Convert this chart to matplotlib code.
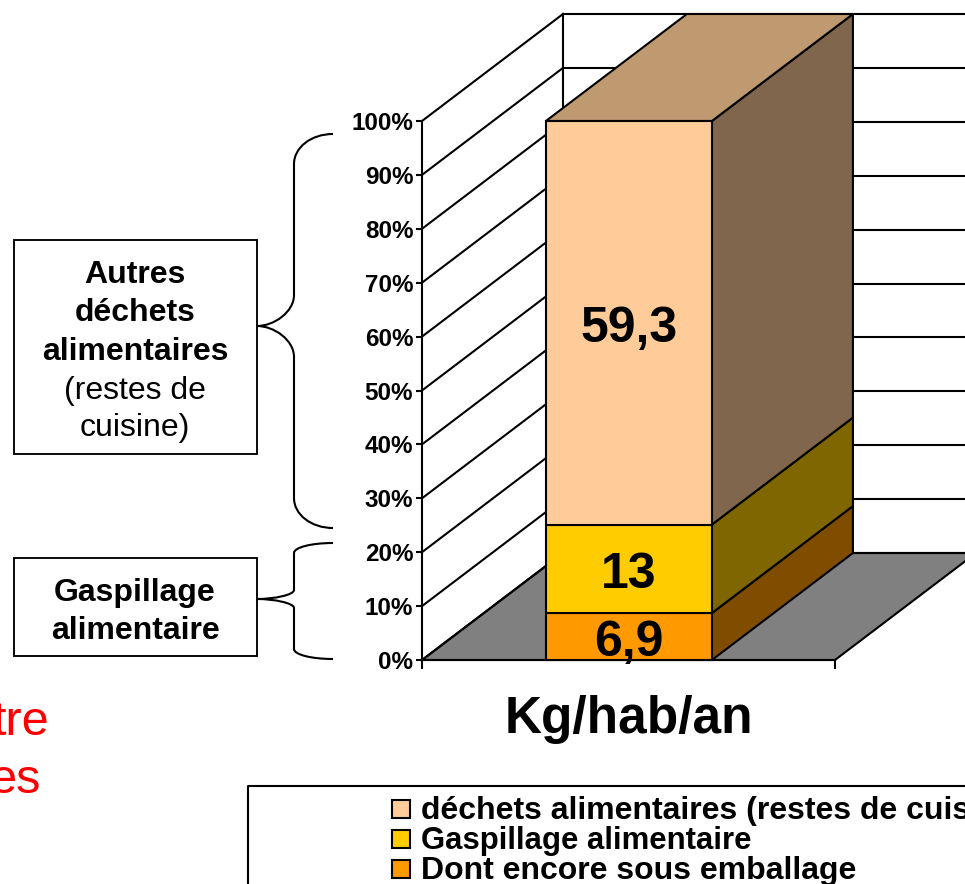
import matplotlib
matplotlib.use('Agg')
import matplotlib.pyplot as plt
from matplotlib.patches import Polygon, Rectangle, PathPatch
from matplotlib.path import Path

plt.rcParams['font.family'] = ['Liberation Sans', 'DejaVu Sans']

categories = ['Dont encore sous emballage', 'Gaspillage alimentaire', 'déchets alimentaires (restes de cuisine)']
kg_values = [6.9, 13, 59.3]
value_labels = ['6,9', '13', '59,3']
front_colors = ['#FF9900', '#FFCC00', '#FFCC99']
side_colors = ['#804D00', '#806600', '#80664D']
top_color = '#BF9970'
tick_values = [0, 10, 20, 30, 40, 50, 60, 70, 80, 90, 100]
tick_labels = ['0%', '10%', '20%', '30%', '40%', '50%', '60%', '70%', '80%', '90%', '100%']

W, H = 965, 884
LW = 1.5

# depth of the fake 3d box, in axis units
depth_x = 141 / 413
depth_y = 107 / 539 * 100
bar_left = 0.30
bar_right = 0.702

fig = plt.figure(figsize=(W / 100, H / 100), dpi=100)
ax = fig.add_axes([422 / W, (H - 660) / H, 413 / W, 539 / H])
ax.set_xlim(0, 1)
ax.set_ylim(0, 100)
ax.patch.set_alpha(0)
ax.spines['top'].set_visible(False)
ax.spines['right'].set_visible(False)
ax.spines['left'].set_linewidth(LW)
ax.spines['bottom'].set_linewidth(LW)
ax.set_xticks([0, 1])
ax.set_xticklabels([])
ax.tick_params(axis='x', length=6.5, width=LW)
ax.set_yticks(tick_values)
ax.set_yticklabels(tick_labels, fontsize=17.5, fontweight='bold', va='center_baseline')
ax.tick_params(axis='y', length=4.3, width=LW, pad=2)

# floor
ax.add_patch(Polygon([(0, 0), (1, 0), (1 + depth_x, depth_y), (depth_x, depth_y)],
	closed=True, fc='#808080', ec='black', lw=LW, clip_on=False, zorder=1))

# walls
for t in tick_values:
	ax.plot([0, depth_x], [t, t + depth_y], color='black', lw=LW, clip_on=False, zorder=1.5)
	ax.plot([depth_x, 1 + depth_x], [t + depth_y, t + depth_y], color='black', lw=LW, clip_on=False, zorder=1.5)
ax.plot([depth_x, depth_x], [depth_y, 100 + depth_y], color='black', lw=LW, clip_on=False, zorder=1.5)

# stacked bar
total = sum(kg_values)
bottom = 0
for i, v in enumerate(kg_values):
	share = v / total * 100
	ax.add_patch(Polygon([
		(bar_right, bottom), (bar_right + depth_x, bottom + depth_y),
		(bar_right + depth_x, bottom + share + depth_y), (bar_right, bottom + share)],
		closed=True, fc=side_colors[i], ec='black', lw=LW, clip_on=False, zorder=2))
	ax.bar((bar_left + bar_right) / 2, share, bar_right - bar_left, bottom=bottom,
		color=front_colors[i], edgecolor='black', linewidth=LW, clip_on=False, zorder=3)
	ax.annotate(value_labels[i], ((bar_left + bar_right) / 2, bottom + share / 2),
		xytext=(0, -1), textcoords='offset points', ha='center', va='center_baseline',
		fontsize=36, fontweight='bold', zorder=5, annotation_clip=False)
	bottom += share
ax.add_patch(Polygon([
	(bar_left, 100), (bar_right, 100),
	(bar_right + depth_x, 100 + depth_y), (bar_left + depth_x, 100 + depth_y)],
	closed=True, fc=top_color, ec='black', lw=LW, clip_on=False, zorder=2.5))

# everything around the chart, in pixels
over = fig.add_axes([0, 0, 1, 1])
over.set_xlim(0, W)
over.set_ylim(H, 0)
over.axis('off')
over.patch.set_alpha(0)

over.text(629, 719, 'Kg/hab/an', ha='center', va='center', fontsize=37, fontweight='bold')


def brace(tip_y, top, bot, r_end, r_tip):
	tip_x, sx, ex = 257, 294, 333
	verts = [
		(ex, top), (sx + 17, top), (sx, top + r_end * 0.45), (sx, top + r_end),
		(sx, tip_y - r_tip),
		(sx, tip_y - r_tip * 0.45), (tip_x + 17, tip_y), (tip_x, tip_y),
		(tip_x + 17, tip_y), (sx, tip_y + r_tip * 0.45), (sx, tip_y + r_tip),
		(sx, bot - r_end),
		(sx, bot - r_end * 0.45), (sx + 17, bot), (ex, bot)]
	codes = [Path.MOVETO, Path.CURVE4, Path.CURVE4, Path.CURVE4, Path.LINETO,
		Path.CURVE4, Path.CURVE4, Path.CURVE4, Path.CURVE4, Path.CURVE4, Path.CURVE4,
		Path.LINETO, Path.CURVE4, Path.CURVE4, Path.CURVE4]
	over.add_patch(PathPatch(Path(verts, codes), fc='none', ec='black', lw=LW))


brace(326, 134, 528, 30, 31)
brace(599, 543, 659, 10, 9)

over.add_patch(Rectangle((14, 240), 243, 214, fc='white', ec='black', lw=LW * 0.9))
over.add_patch(Rectangle((14, 558), 243, 98, fc='white', ec='black', lw=LW * 0.9))

autres = [('Autres', 'bold', 275), ('déchets', 'bold', 313), ('alimentaires', 'bold', 352),
	('(restes de', 'normal', 391), ('cuisine)', 'normal', 428)]
for txt, w, y in autres:
	over.text(135, y, txt, ha='center', va='center', fontsize=23, fontweight=w)
over.text(135, 593, 'Gaspillage', ha='center', va='center', fontsize=23, fontweight='bold')
over.text(135, 631, 'alimentaire', ha='center', va='center', fontsize=23, fontweight='bold')

# red text cut off by the left edge
over.text(49, 735, 'tre', ha='right', va='baseline', fontsize=35, color='#FF0000')
over.text(41, 793, 'es', ha='right', va='baseline', fontsize=35, color='#FF0000')

# legend, runs off the bottom right
over.plot([248, 248, W + 5], [H + 5, 786, 786], color='black', lw=LW, clip_on=False)
legend_y = [808, 838, 868]
legend_size = [23, 22.4, 23]
for name, col, y, fs in zip(categories[::-1], front_colors[::-1], legend_y, legend_size):
	over.add_patch(Rectangle((392, y - 8), 18, 18, fc=col, ec='black', lw=LW))
	over.text(421, y, name, ha='left', va='center_baseline', fontsize=fs, fontweight='bold')

fig.savefig('out.png', dpi=100)
